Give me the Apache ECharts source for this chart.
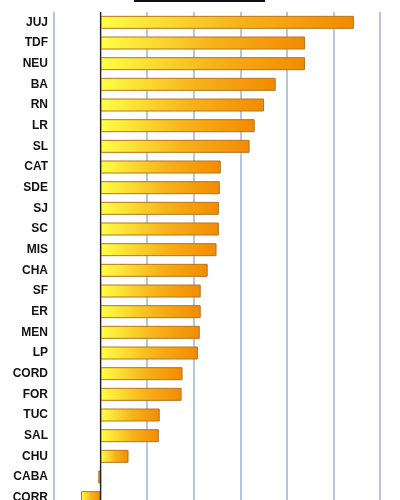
<!DOCTYPE html>
<html><head><meta charset="utf-8">
<script src="https://cdn.jsdelivr.net/npm/echarts@6/dist/echarts.min.js"></script>
<style>html,body{margin:0;padding:0;background:#fff;overflow:hidden}#c{width:400px;height:510px}</style>
</head><body><div id="c"></div>
<script>
const categories = ["JUJ","TDF","NEU","BA","RN","LR","SL","CAT","SDE","SJ","SC","MIS","CHA","SF","ER","MEN","LP","CORD","FOR","TUC","SAL","CHU","CABA","CORR"];
const values = [5.44,4.39,4.39,3.76,3.51,3.31,3.2,2.58,2.56,2.54,2.54,2.49,2.3,2.15,2.15,2.13,2.09,1.76,1.74,1.27,1.25,0.6,-0.05,-0.42];
const xTicks = {min:-1, max:6, interval:1};

const chart = echarts.init(document.getElementById('c'), null, {renderer:'canvas'});
chart.setOption({
  animation:false,
  grid:{left:54, right:20, top:12, bottom:2, containLabel:false},
  graphic:[{type:'rect', shape:{x:134,y:0,width:131,height:2}, style:{fill:'#111'}}],
  xAxis:{type:'value', min:xTicks.min, max:xTicks.max, interval:xTicks.interval,
    axisLine:{show:false}, axisTick:{show:false}, axisLabel:{show:false},
    splitLine:{show:true, lineStyle:{color:'#9fb2d6', width:1.5}}},
  yAxis:{type:'category', data:categories, inverse:true,
    axisLine:{show:false}, axisTick:{show:false},
    axisLabel:{margin:6, color:'#111', fontFamily:'Liberation Sans, Arial', fontWeight:'bold', fontSize:12}},
  series:[{type:'bar', data:values, barWidth:13,
    itemStyle:{
      color:{type:'linear', x:0, y:0, x2:1, y2:0, colorStops:[{offset:0,color:'#ffff45'},{offset:0.55,color:'#f7b21a'},{offset:1,color:'#f38a00'}]},
      borderColor:'#b8741e', borderWidth:1},
    markLine:{silent:true, symbol:'none', label:{show:false},
      lineStyle:{color:'#222', type:'solid', width:1.2},
      data:[{xAxis:0}]}
  }]
});
</script></body></html>
